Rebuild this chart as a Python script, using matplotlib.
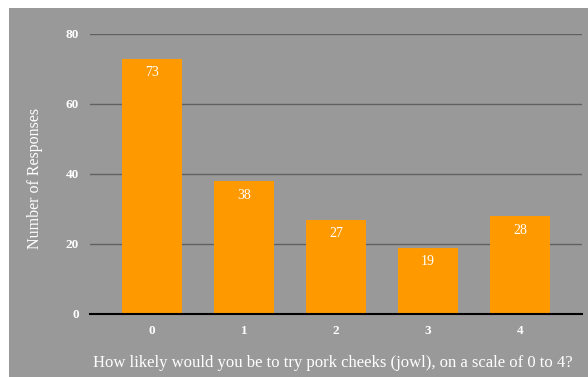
import matplotlib.pyplot as plt
from matplotlib.patches import Rectangle

scores = ["0", "1", "2", "3", "4"]
responses = [73, 38, 27, 19, 28]
yticks = [0, 20, 40, 60, 80]

plt.rcParams["font.family"] = "Liberation Serif"

W, H = 588, 377
fig = plt.figure(figsize=(W / 100, H / 100), dpi=100)
fig.patch.set_facecolor("white")
# grey panel behind the chart
fig.patches.append(Rectangle((9 / W, 0), 1 - 9 / W, 1 - 8 / H,
                             transform=fig.transFigure, facecolor="#999999",
                             edgecolor="none", zorder=-10))

ax = fig.add_axes([90 / W, 63 / H, 492 / W, 280 / H])
ax.set_facecolor("none")

x = list(range(len(scores)))
bars = ax.bar(x, responses, width=0.652, color="#ff9900", zorder=2)
for b, v in zip(bars, responses):
    ax.text(b.get_x() + b.get_width() / 2, v - 2.2, str(v), ha="center", va="top",
            color="white", fontsize=10, zorder=3)

ax.set_xlim(-0.674, 4.674)
ax.set_ylim(0, 80)
ax.set_yticks(yticks)
ax.set_xticks(x)
ax.set_xticklabels(scores)
ax.tick_params(length=0, colors="white", labelsize=9.5)
ax.tick_params(axis="y", pad=8)
ax.tick_params(axis="x", pad=8)
for lab in ax.get_xticklabels() + ax.get_yticklabels():
    lab.set_fontweight("bold")

ax.grid(axis="y", color="#616161", linewidth=1, zorder=1)
for s in ["top", "right", "left"]:
    ax.spines[s].set_visible(False)
ax.spines["bottom"].set_color("black")
ax.spines["bottom"].set_linewidth(1.5)
ax.spines["bottom"].set_zorder(4)

fig.text(35 / W, 1 - 178 / H, "Number of Responses", rotation=90, ha="center",
         va="center", color="white", fontsize=11.5)
fig.text(333 / W, 1 - 363 / H,
         "How likely would you be to try pork cheeks (jowl), on a scale of 0 to 4?",
         ha="center", va="center", color="white", fontsize=12)

fig.savefig("out.png", dpi=100)
